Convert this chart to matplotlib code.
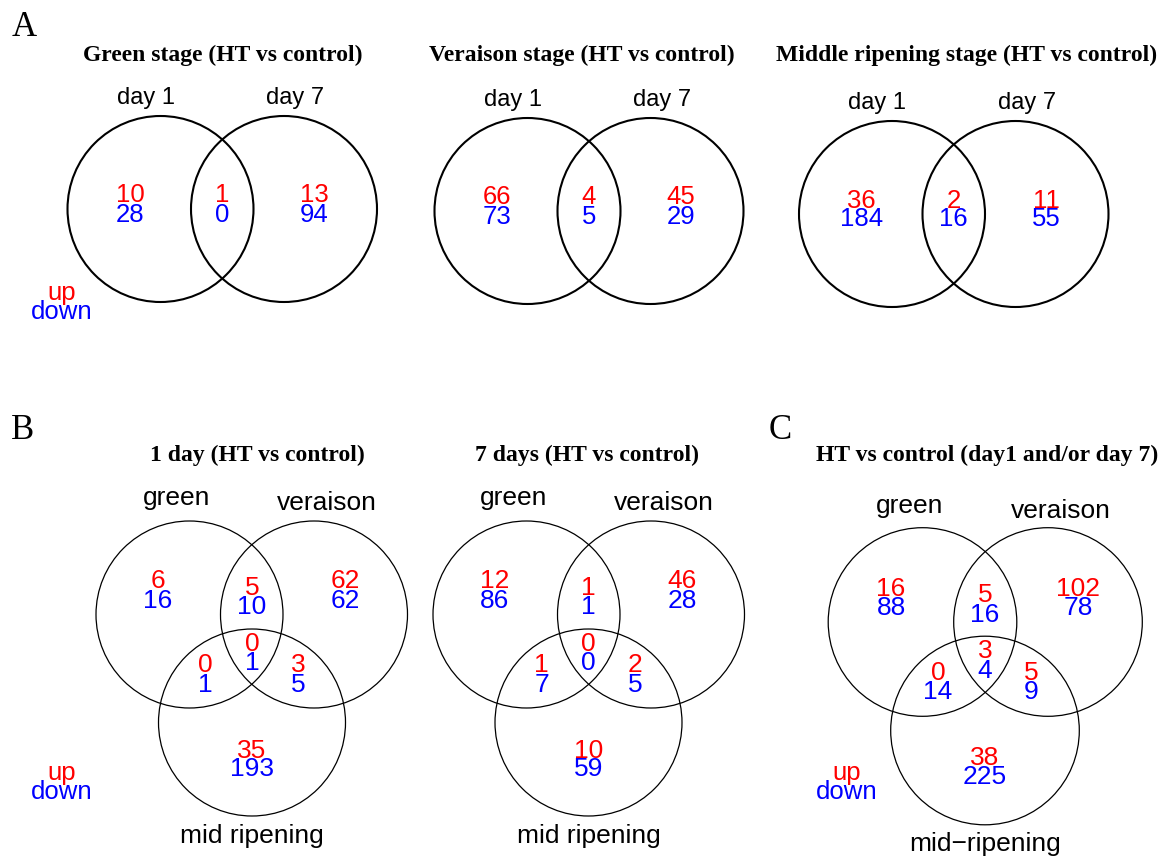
import matplotlib
matplotlib.use("Agg")
import matplotlib.pyplot as plt
from matplotlib.patches import Circle

# Panel A: two-set Venn (day 1 / day 7) per stage
a_titles = ["Green stage (HT vs control)",
            "Veraison stage (HT vs control)",
            "Middle ripening stage (HT vs control)"]
a_sets = ["day 1", "day 7"]
# regions: day1 only, both, day7 only
a_up = [[10, 1, 13], [66, 4, 45], [36, 2, 11]]
a_down = [[28, 0, 94], [73, 5, 29], [184, 16, 55]]

# Panels B and C: three-set Venn (green / veraison / mid ripening)
bc_titles = ["1 day (HT vs control)",
             "7 days (HT vs control)",
             "HT vs control (day1 and/or day 7)"]
bc_sets = [["green", "veraison", "mid ripening"],
           ["green", "veraison", "mid ripening"],
           ["green", "veraison", "mid\u2212ripening"]]
# regions: green only, green&veraison, veraison only,
#          green&mid, all three, veraison&mid, mid only
bc_up = [[6, 5, 62, 0, 0, 3, 35],
         [12, 1, 46, 1, 0, 2, 10],
         [16, 5, 102, 0, 3, 5, 38]]
bc_down = [[16, 10, 62, 1, 1, 5, 193],
           [86, 1, 28, 7, 0, 5, 59],
           [88, 16, 78, 14, 4, 9, 225]]

RED = "#ff0000"
BLUE = "#0000ff"
SANS = "Liberation Sans"
SERIF = "Liberation Serif"

fig = plt.figure(figsize=(11.66, 8.58), dpi=100)
ax = fig.add_axes([0, 0, 1, 1])
ax.set_xlim(0, 1166)
ax.set_ylim(858, 0)
ax.axis("off")


def txt(x, y, s, color="black", size=17, family=SANS, weight="normal"):
    ax.text(x, y, s, color=color, fontsize=size, family=family,
            weight=weight, ha="center", va="baseline")


def pair(x, y, up, down, size):
    txt(x, y, str(up), RED, size)
    txt(x, y + 19, str(down), BLUE, size)


# --- panel A layout (left circle centre, right circle centre, radius)
a_layout = [(160.5, 209, 284, 93), (527.5, 211, 650.5, 93), (892, 214, 1015.5, 93)]
a_title_x = [223, 582, 967]
for i, (x1, cy, x2, r) in enumerate(a_layout):
    ax.add_patch(Circle((x1, cy), r, fill=False, lw=1.5, ec="black"))
    ax.add_patch(Circle((x2, cy), r, fill=False, lw=1.5, ec="black"))
    txt(a_title_x[i], 60.5, a_titles[i], family=SERIF, weight="bold")
    txt(x1 - 14.5, cy - 105, a_sets[0])
    txt(x2 + 11.5, cy - 105, a_sets[1])
    xs = [x1 - 30.5, (x1 + x2) / 2, x2 + 30.5]
    for j in range(3):
        pair(xs[j], cy - 6.5, a_up[i][j], a_down[i][j], 18.5)

# --- panels B and C layout (green centre x, y, radius, veraison dx, mid dx, mid dy)
bc_layout = [(189.5, 614.5, 93.5, 124.5, 62.5, 108),
             (526.5, 614.5, 93.5, 124.5, 62, 108),
             (922.5, 622, 94.3, 125.5, 62.5, 108.5)]
bc_title_x = [257.5, 587, 987]
# region label offsets relative to (mid circle x, green circle y)
reg_dx = [-94, 0, 93.5, -47, 0, 46.5, 0]
reg_dy = [-26, -19.5, -26, 58, 36.5, 58, 143]
for i, (gx, gy, r, vdx, mdx, mdy) in enumerate(bc_layout):
    vx, mx, my = gx + vdx, gx + mdx, gy + mdy
    for c in [(gx, gy), (vx, gy), (mx, my)]:
        ax.add_patch(Circle(c, r, fill=False, lw=0.9, ec="black"))
    txt(bc_title_x[i], 461, bc_titles[i], family=SERIF, weight="bold")
    txt(gx - 12.5, gy - 109, bc_sets[i][0], size=19)
    txt(vx + 12.5, gy - 104, bc_sets[i][1], size=19)
    txt(mx, my + 120.5, bc_sets[i][2], size=19)
    for j in range(7):
        pair(mx + reg_dx[j], gy + reg_dy[j], bc_up[i][j], bc_down[i][j], 19)

# up / down keys
for kx, ky in [(62, 300), (62, 780), (847, 780)]:
    txt(kx, ky, "up", RED, 18.5)
    txt(kx, ky + 19, "down", BLUE, 18.5)

# panel letters
for lx, ly, s in [(24, 36, "A"), (23, 439, "B"), (780, 439, "C")]:
    txt(lx, ly, s, size=25, family=SERIF)

fig.savefig("out.png", dpi=100)
